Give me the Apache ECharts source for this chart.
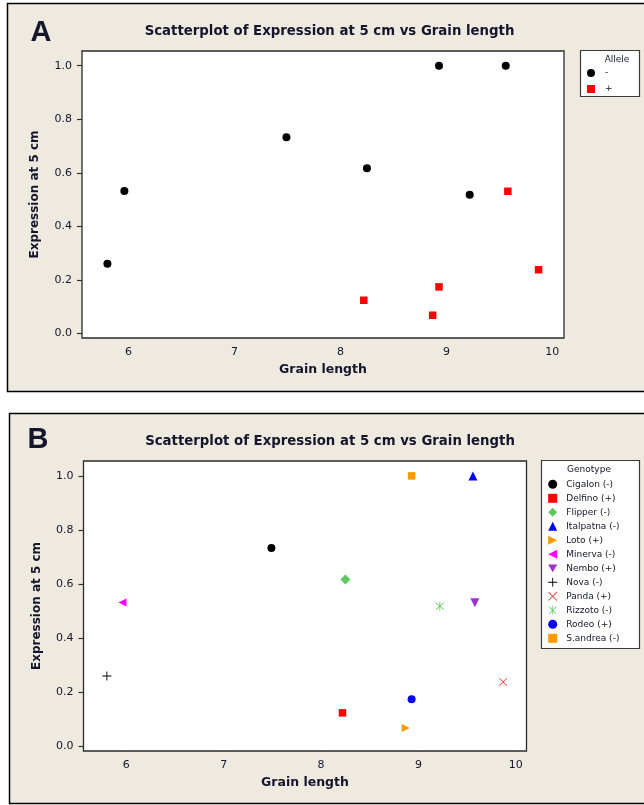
<!DOCTYPE html>
<html>
<head>
<meta charset="utf-8">
<script src="https://cdn.jsdelivr.net/npm/echarts@6/dist/echarts.min.js"></script>
<style>
  html, body { margin: 0; padding: 0; background: #ffffff; }
  #chart { width: 644px; height: 805px; }
</style>
</head>
<body>
<div id="chart"></div>
<script>
// Rice genotypes: grain length and relative expression at 5 cm
const genotypes = ['Cigalon', 'Delfino', 'Flipper', 'Italpatna', 'Loto', 'Minerva',
                   'Nembo', 'Nova', 'Panda', 'Rizzoto', 'Rodeo', 'S.andrea'];
const alleles = ['-', '+', '-', '-', '+', '-', '+', '-', '+', '-', '+', '-'];
const grainLength = [7.49, 8.22, 8.25, 9.56, 8.87, 5.96, 9.58, 5.80, 9.87, 9.22, 8.93, 8.93];
const expression = [0.733, 0.124, 0.617, 1.0, 0.068, 0.532, 0.531, 0.260, 0.238, 0.518, 0.174, 1.0];
const alleleGroups = ['-', '+'];
const xTicks = [6, 7, 8, 9, 10];
const yTicks = [0, 0.2, 0.4, 0.6, 0.8, 1.0];

// Marker look per genotype (panel B) and per allele (panel A)
const PLUS = 'path://M4.5,0h1v4.5h4.5v1h-4.5v4.5h-1v-4.5h-4.5v-1h4.5z';
const CROSS = 'path://M0.6,1.2L1.2,0.6L9.4,8.8L8.8,9.4z M8.8,0.6L9.4,1.2L1.2,9.4L0.6,8.8z';
const STAR = 'path://M4.6,0h0.8v10h-0.8z M0.9,1.5L1.5,0.9L9.1,8.5L8.5,9.1z M8.5,0.9L9.1,1.5L1.5,9.1L0.9,8.5z';
const genotypeStyle = [
  { symbol: 'circle', color: '#000000', size: 8 },
  { symbol: 'rect', color: '#ff0000', size: 7.5 },
  { symbol: 'diamond', color: '#5fc75f', size: 10 },
  { symbol: 'triangle', color: '#0000ff', size: 9 },
  { symbol: 'path://M0,0L10,5L0,10Z', color: '#ff9900', size: 8 },
  { symbol: 'path://M10,0L0,5L10,10Z', color: '#ff00ff', size: 8 },
  { symbol: 'path://M0,0L10,0L5,8.7Z', color: '#9933cc', size: 9 },
  { symbol: PLUS, color: '#000000', size: 9 },
  { symbol: CROSS, color: '#ff3333', size: 8 },
  { symbol: STAR, color: '#66cc66', size: 9 },
  { symbol: 'circle', color: '#0000ff', size: 8 },
  { symbol: 'rect', color: '#ff9900', size: 7.5 }
];
const alleleStyle = {
  '-': { symbol: 'circle', color: '#000000', size: 8 },
  '+': { symbol: 'rect', color: '#ff0000', size: 7.5 }
};

const TEXT = '#15152b';
const BEIGE = '#eeeae0';
const X_MIN = 5.56, X_MAX = 10.11, Y_MIN = -0.017, Y_MAX = 1.055;

function xAxisFor(gridIndex) {
  return {
    type: 'value', gridIndex, min: X_MIN, max: X_MAX,
    name: 'Grain length', nameLocation: 'middle', nameGap: 25,
    nameTextStyle: { fontFamily: 'DejaVu Sans', fontWeight: 'bold', fontSize: 12.5, color: TEXT },
    axisLine: { show: false },
    axisTick: { show: true, length: 5, customValues: xTicks, lineStyle: { color: '#333', width: 1.2 } },
    axisLabel: { customValues: xTicks, margin: 9, fontFamily: 'DejaVu Sans', fontSize: 11, color: TEXT },
    splitLine: { show: false }
  };
}
function yAxisFor(gridIndex) {
  return {
    type: 'value', gridIndex, min: Y_MIN, max: Y_MAX,
    name: 'Expression at 5 cm', nameLocation: 'middle', nameGap: 41, nameRotate: 90,
    nameTextStyle: { fontFamily: 'DejaVu Sans', fontWeight: 'bold', fontSize: 12, color: TEXT },
    axisLine: { show: false },
    axisTick: { show: true, length: 5, customValues: yTicks, lineStyle: { color: '#333', width: 1.2 } },
    axisLabel: { customValues: yTicks, margin: 10, fontFamily: 'DejaVu Sans', fontSize: 11, color: TEXT,
                 formatter: v => v.toFixed(1) },
    splitLine: { show: false }
  };
}

const series = [];
// Panel A: grouped by allele
alleleGroups.forEach(a => {
  const st = alleleStyle[a];
  const data = [];
  genotypes.forEach((g, i) => { if (alleles[i] === a) data.push([grainLength[i], expression[i]]); });
  series.push({
    type: 'scatter', name: a, xAxisIndex: 0, yAxisIndex: 0,
    symbol: st.symbol, symbolSize: st.size,
    itemStyle: { color: st.color, opacity: 1 }, data, z: 3
  });
});
// Panel B: one series per genotype
const genotypeNames = genotypes.map((g, i) => g + ' (' + alleles[i] + ')');
genotypes.forEach((g, i) => {
  const st = genotypeStyle[i];
  series.push({
    type: 'scatter', name: genotypeNames[i], xAxisIndex: 1, yAxisIndex: 1,
    symbol: st.symbol, symbolSize: st.size,
    itemStyle: { color: st.color, opacity: 1 }, data: [[grainLength[i], expression[i]]], z: 3
  });
});

function textEl(text, x, y, font, align) {
  return {
    type: 'text', z: 5,
    style: { text, x, y, font, fill: TEXT, textAlign: align || 'center', align: align || 'center',
             textVerticalAlign: 'middle', verticalAlign: 'middle' }
  };
}
const titleText = 'Scatterplot of Expression at 5 cm vs Grain length';

const option = {
  backgroundColor: '#ffffff',
  animation: false,
  grid: [
    { left: 82, top: 51, width: 482, height: 287, show: true, backgroundColor: '#ffffff',
      borderColor: '#2b2b2b', borderWidth: 1.3, z: 1 },
    { left: 83.5, top: 461, width: 443, height: 290, show: true, backgroundColor: '#ffffff',
      borderColor: '#2b2b2b', borderWidth: 1.3, z: 1 }
  ],
  xAxis: [xAxisFor(0), xAxisFor(1)],
  yAxis: [yAxisFor(0), yAxisFor(1)],
  legend: [
    {
      data: alleleGroups, orient: 'vertical', left: 587, top: 68.5,
      itemWidth: 8, itemHeight: 8, itemGap: 7, padding: 0, z: 10,
      textStyle: { fontFamily: 'DejaVu Sans', fontSize: 9, color: TEXT, padding: [0, 0, 0, 5] },
      selectedMode: false
    },
    {
      data: genotypeNames, orient: 'vertical', left: 548.2, top: 479.8,
      itemWidth: 9, itemHeight: 9, itemGap: 5, padding: 0, z: 10,
      textStyle: { fontFamily: 'DejaVu Sans', fontSize: 9, color: TEXT, padding: [0, 0, 0, 4] },
      selectedMode: false
    }
  ],
  graphic: [
    // panel frames
    { type: 'rect', z: -10, shape: { x: 7.5, y: 3.5, width: 660, height: 388 },
      style: { fill: BEIGE, stroke: '#000', lineWidth: 1.5 } },
    { type: 'rect', z: -10, shape: { x: 9.5, y: 413.5, width: 660, height: 390 },
      style: { fill: BEIGE, stroke: '#000', lineWidth: 1.5 } },
    // legend boxes
    { type: 'rect', z: 2, shape: { x: 580.5, y: 50.5, width: 59, height: 46 },
      style: { fill: '#ffffff', stroke: '#3a3a3a', lineWidth: 1.2 } },
    { type: 'rect', z: 2, shape: { x: 541.5, y: 460.5, width: 98, height: 188 },
      style: { fill: '#ffffff', stroke: '#3a3a3a', lineWidth: 1.2 } },
    textEl('Allele', 617, 60, '9px "DejaVu Sans"'),
    textEl('Genotype', 589, 470, '9px "DejaVu Sans"'),
    // panel letters
    textEl('A', 41, 33, 'bold 29px "Liberation Sans"'),
    textEl('B', 38, 440, 'bold 29px "Liberation Sans"'),
    // chart titles
    textEl(titleText, 329.5, 32, 'bold 13.3px "DejaVu Sans"'),
    textEl(titleText, 330, 442, 'bold 13.3px "DejaVu Sans"')
  ],
  series
};

const chart = echarts.init(document.getElementById('chart'), null, { renderer: 'canvas' });
chart.setOption(option);
</script>
</body>
</html>
